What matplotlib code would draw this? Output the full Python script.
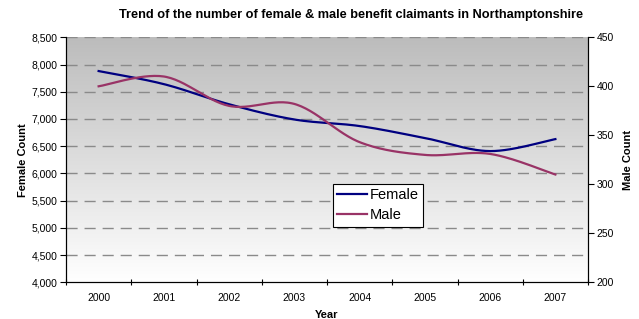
import numpy as np
import matplotlib
matplotlib.use('Agg')
import matplotlib.pyplot as plt
from matplotlib.ticker import FuncFormatter, FixedLocator

plt.rcParams['font.family'] = ['Liberation Sans', 'DejaVu Sans']

years = ['2000', '2001', '2002', '2003', '2004', '2005', '2006', '2007']
female = [7880, 7640, 7270, 6990, 6870, 6650, 6410, 6630]
male = [400, 410, 380, 382, 343, 330, 331, 310]


def smooth(y, n=30):
    # excel-like smoothed line (catmull-rom as bezier)
    y = np.asarray(y, dtype=float)
    x = np.arange(len(y), dtype=float)
    pts = np.column_stack([x, y])
    out = []
    for i in range(len(pts) - 1):
        p0 = pts[max(i - 1, 0)]
        p1 = pts[i]
        p2 = pts[i + 1]
        p3 = pts[min(i + 2, len(pts) - 1)]
        c1 = p1 + (p2 - p0) / 6
        c2 = p2 - (p3 - p1) / 6
        t = np.linspace(0, 1, n)[:, None]
        seg = ((1 - t) ** 3) * p1 + 3 * ((1 - t) ** 2) * t * c1 + 3 * (1 - t) * t ** 2 * c2 + t ** 3 * p2
        out.append(seg if i == 0 else seg[1:])
    out = np.vstack(out)
    return out[:, 0], out[:, 1]


fig = plt.figure(figsize=(6.39, 3.19), dpi=100)
ax = fig.add_axes([66 / 639, 1 - 282.3 / 319, (588 - 66) / 639, (282.3 - 37.3) / 319])

# gradient background
grad = np.linspace(0, 1, 256)[:, None]
cmap = matplotlib.colors.LinearSegmentedColormap.from_list('g', ['#bcbcbc', '#ffffff'])
ax.imshow(grad, extent=[0, 1, 0, 1], transform=ax.transAxes, cmap=cmap,
          aspect='auto', zorder=0, origin='upper')

ax.set_xlim(-0.5, 7.5)
ax.set_ylim(4000, 8500)
ax.set_yticks(np.arange(4000, 8501, 500))
ax.yaxis.set_major_formatter(FuncFormatter(lambda v, p: '{:,.0f}'.format(v)))
for v in np.arange(4500, 8501, 500):
    ax.axhline(v, color='#8a8a8a', lw=1.0, ls=(0, (8, 5)), zorder=1)

ax.xaxis.set_major_locator(FixedLocator(np.arange(-0.5, 8, 1)))
ax.xaxis.set_minor_locator(FixedLocator(np.arange(8)))
ax.set_xticklabels([], minor=False)
ax.set_xticklabels(years, minor=True)
ax.tick_params(axis='x', which='minor', length=0, pad=8, labelsize=7.5)
ax.tick_params(axis='x', which='major', direction='inout', length=5, width=0.8)
ax.tick_params(axis='y', direction='out', length=4, width=0.8, labelsize=7.5, pad=2)

xs, ys = smooth(female)
l1, = ax.plot(xs, ys, color='#000080', lw=1.6, zorder=3, label='Female')

ax2 = ax.twinx()
ax2.set_ylim(200, 450)
ax2.set_yticks(np.arange(200, 451, 50))
ax2.tick_params(axis='y', direction='out', length=4, width=0.8, labelsize=7.5, pad=2)
xs, ys = smooth(male)
l2, = ax2.plot(xs, ys, color='#993366', lw=1.6, zorder=3, label='Male')

for a in (ax, ax2):
    a.spines['top'].set_visible(False)
    for s in ('left', 'right', 'bottom'):
        a.spines[s].set_linewidth(0.8)
        a.spines[s].set_color('black')

ax.set_ylabel('Female Count', fontsize=8, fontweight='bold', labelpad=3)
ax2.set_ylabel('Male Count', fontsize=8, fontweight='bold', labelpad=7)
ax.set_xlabel('Year', fontsize=8, fontweight='bold', labelpad=5)

fig.text(351 / 639, 1 - 15 / 319, 'Trend of the number of female & male benefit claimants in Northamptonshire',
         ha='center', va='center', fontsize=9.2, fontweight='bold')

leg = ax2.legend([l1, l2], ['Female', 'Male'], loc='upper left',
                 bbox_to_anchor=(333 / 639, 1 - 184 / 319), bbox_transform=fig.transFigure,
                 fontsize=10.5, frameon=True, fancybox=False, borderaxespad=0,
                 handlelength=2.0, handletextpad=0.2, borderpad=0.3, labelspacing=0.4)
leg.get_frame().set_edgecolor('black')
leg.get_frame().set_linewidth(0.8)
leg.get_frame().set_facecolor('white')
leg.get_frame().set_alpha(1)

fig.savefig('out.png', dpi=100)
